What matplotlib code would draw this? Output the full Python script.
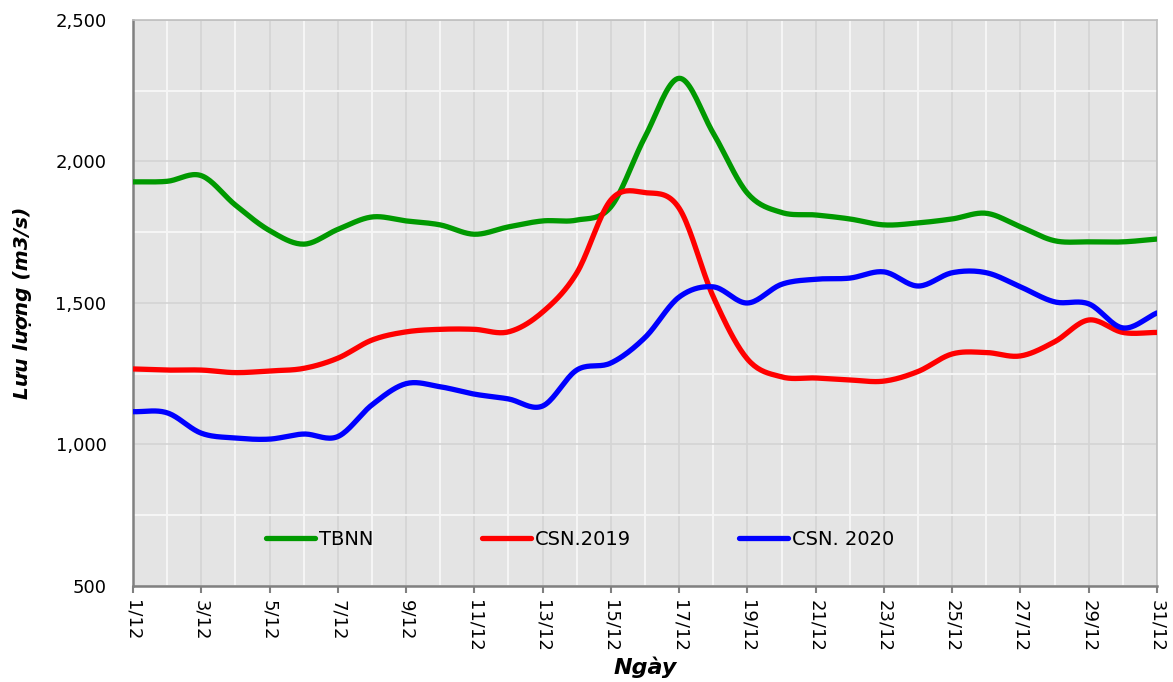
import numpy as np
import matplotlib
matplotlib.use("Agg")
import matplotlib.pyplot as plt
from matplotlib.ticker import FuncFormatter, MultipleLocator

days = list(range(1, 32))
tick_labels = [f"{d}/12" for d in range(1, 32, 2)]

tbnn = [1928, 1930, 1950, 1846, 1756, 1708, 1760, 1804, 1790, 1776, 1743, 1769,
        1790, 1793, 1840, 2087, 2294, 2100, 1888, 1820, 1811, 1797, 1776, 1783,
        1797, 1817, 1769, 1720, 1716, 1716, 1726]
csn2019 = [1267, 1263, 1263, 1254, 1260, 1269, 1305, 1369, 1398, 1407, 1407, 1398,
           1468, 1606, 1864, 1890, 1835, 1522, 1302, 1239, 1235, 1228, 1224, 1258,
           1320, 1325, 1313, 1363, 1440, 1396, 1396]
csn2020 = [1116, 1112, 1040, 1023, 1019, 1037, 1028, 1140, 1215, 1204, 1178, 1161,
           1136, 1263, 1288, 1378, 1521, 1557, 1500, 1566, 1584, 1588, 1610, 1560,
           1607, 1607, 1557, 1504, 1497, 1412, 1465]

series = [("TBNN", tbnn, "#009900"), ("CSN.2019", csn2019, "#FF0000"),
          ("CSN. 2020", csn2020, "#0000FF")]


def smooth(x, y, n=20):
    x = np.asarray(x, float)
    y = np.asarray(y, float)
    px = np.concatenate([[2 * x[0] - x[1]], x, [2 * x[-1] - x[-2]]])
    py = np.concatenate([[2 * y[0] - y[1]], y, [2 * y[-1] - y[-2]]])
    xs, ys = [], []
    t = np.linspace(0, 1, n, endpoint=False)
    for i in range(1, len(px) - 2):
        p0, p1, p2, p3 = py[i - 1], py[i], py[i + 1], py[i + 2]
        q0, q1, q2, q3 = px[i - 1], px[i], px[i + 1], px[i + 2]
        ys.append(0.5 * ((2 * p1) + (-p0 + p2) * t + (2 * p0 - 5 * p1 + 4 * p2 - p3) * t ** 2
                         + (-p0 + 3 * p1 - 3 * p2 + p3) * t ** 3))
        xs.append(0.5 * ((2 * q1) + (-q0 + q2) * t + (2 * q0 - 5 * q1 + 4 * q2 - q3) * t ** 2
                         + (-q0 + 3 * q1 - 3 * q2 + q3) * t ** 3))
    xs.append([x[-1]])
    ys.append([y[-1]])
    return np.concatenate(xs), np.concatenate(ys)


plt.rcParams['font.family'] = ['DejaVu Sans']
fig = plt.figure(figsize=(11.73, 6.82), dpi=100)
ax = fig.add_axes([133 / 1173, 1 - 586 / 682, 1024 / 1173, 566 / 682])
ax.set_facecolor("#E4E4E4")

ax.set_xlim(1, 31)
ax.set_ylim(500, 2500)
ax.xaxis.set_minor_locator(MultipleLocator(1))
ax.yaxis.set_major_locator(MultipleLocator(500))
ax.yaxis.set_minor_locator(MultipleLocator(250))
ax.set_xticks(list(range(1, 32, 2)))
ax.set_xticklabels(tick_labels, rotation=-90, fontsize=13)
ax.yaxis.set_major_formatter(FuncFormatter(lambda v, p: f"{int(v):,}"))
ax.tick_params(axis='y', labelsize=13, length=0, pad=19)
ax.tick_params(axis='x', which='major', length=5, color="#808080", width=1.5, pad=5)
ax.tick_params(axis='both', which='minor', length=0)

ax.grid(which='minor', color="#F5F5F5", linewidth=1.5, zorder=0)
ax.grid(which='major', color="#D4D4D4", linewidth=1.2, zorder=0)
ax.set_axisbelow(True)

for s in ['left', 'bottom']:
    ax.spines[s].set_color("#808080")
    ax.spines[s].set_linewidth(1.8)
for s in ['top', 'right']:
    ax.spines[s].set_color("#BFBFBF")
    ax.spines[s].set_linewidth(1.2)

for name, vals, col in series:
    sx, sy = smooth(days, vals)
    ax.plot(sx, sy, color=col, linewidth=3.8, label=name, solid_capstyle='round', zorder=3)

leg = ax.legend(ncol=3, loc='center left', bbox_to_anchor=(0.113, 0.083), frameon=False,
                fontsize=14, handlelength=2.5, handletextpad=0.2, columnspacing=5.6)

ax.set_ylabel("Lưu lượng (m3/s)", fontsize=14.5, fontweight='bold', fontstyle='italic')
ax.yaxis.set_label_coords(-0.099, 0.5)
ax.set_xlabel("Ngày", fontsize=16, fontweight='bold', fontstyle='italic', va='center')
ax.xaxis.set_label_coords(0.5, -0.143)

fig.savefig("out.png", dpi=100)
